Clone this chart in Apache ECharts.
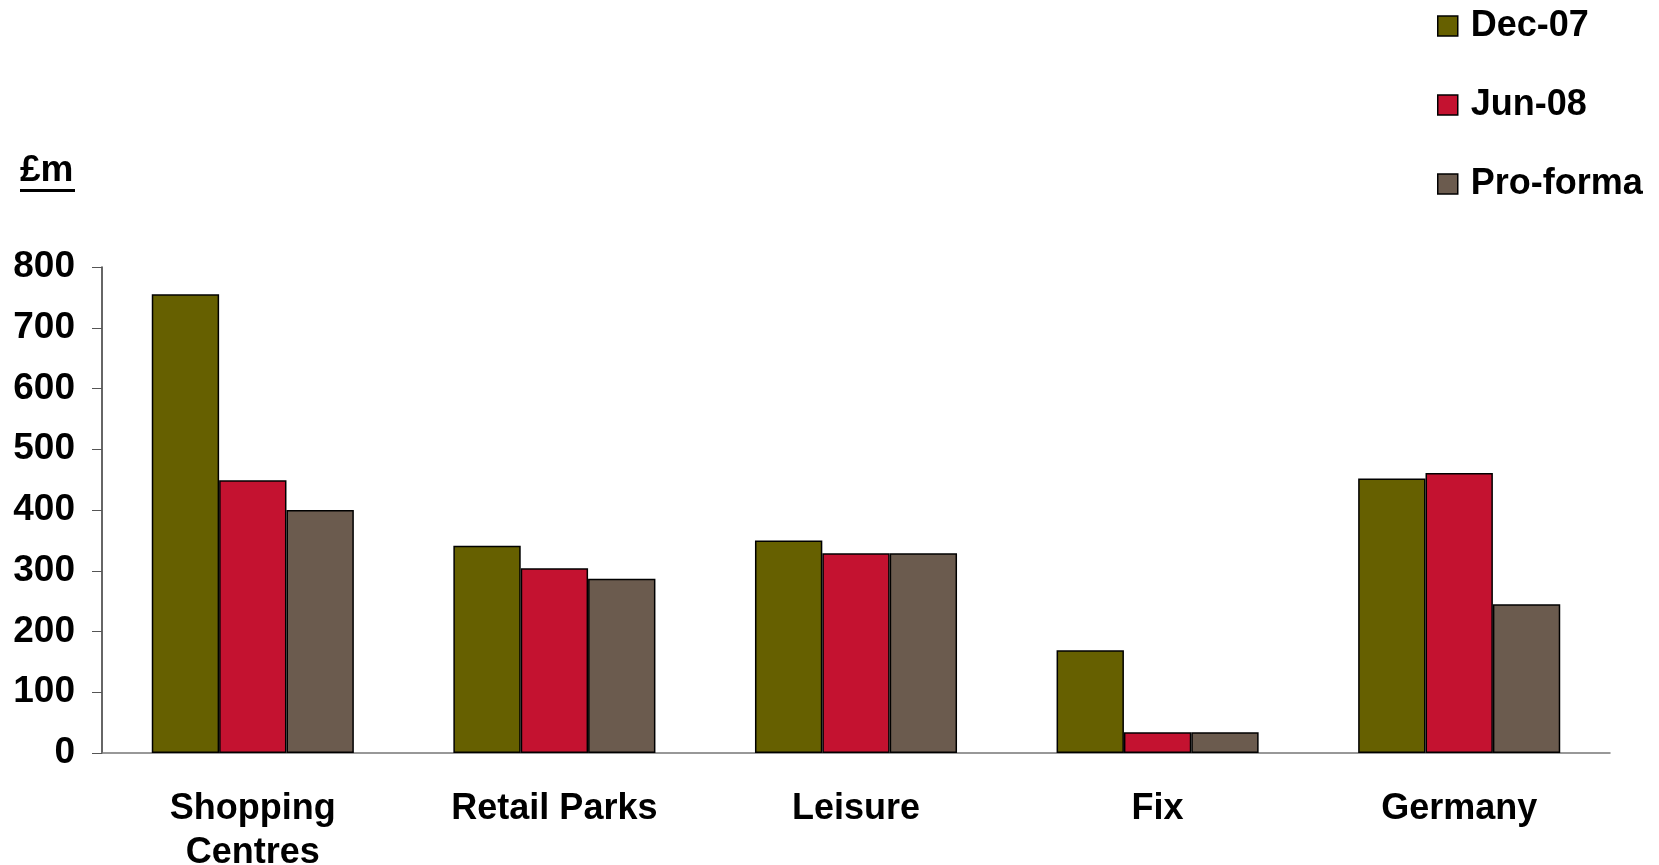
<!DOCTYPE html>
<html>
<head>
<meta charset="utf-8">
<script src="https://cdn.jsdelivr.net/npm/echarts@6/dist/echarts.min.js"></script>
<style>
html, body { margin: 0; padding: 0; background: #fff; }
#chart { width: 1659px; height: 865px; }
</style>
</head>
<body>
<div id="chart"></div>
<script>
// data
var categories = ['Shopping\nCentres', 'Retail Parks', 'Leisure', 'Fix', 'Germany'];
var seriesNames = ['Dec-07', 'Jun-08', 'Pro-forma'];
var dec07 = [755, 341, 350, 169, 452];
var jun08 = [449, 304, 329, 34, 461];
var proForma = [400, 287, 329, 34, 245];
var yTicks = [0, 100, 200, 300, 400, 500, 600, 700, 800];

var colors = ['#666000', '#C41230', '#6B5B4E'];
var font = 'Liberation Sans, Arial, sans-serif';

function makeSeries(name, data) {
	return {
		name : name,
		type : 'bar',
		barGap : '0%',
		barCategoryGap : '33%',
		itemStyle : {
			borderColor : '#000',
			borderWidth : 1.5
		},
		data : data
	};
}

var chart = echarts.init(document.getElementById('chart'));
var option = {
	animation : false,
	color : colors,
	grid : {
		left : 102,
		right : 49,
		top : 267,
		bottom : 112,
		outerBoundsMode : 'none'
	},
	legend : {
		orient : 'vertical',
		left : 1432,
		top : 3,
		itemWidth : 20,
		itemHeight : 20,
		itemGap : 43,
		icon : 'rect',
		itemStyle : {
			borderColor : '#000',
			borderWidth : 1.5
		},
		textStyle : {
			fontFamily : font,
			fontWeight : 'bold',
			fontSize : 36,
			color : '#000',
			padding : [0, 0, 0, 8]
		},
		data : seriesNames
	},
	graphic : [
		{
			type : 'text',
			left : 20,
			top : 152,
			style : {
				text : '£m',
				font : 'bold 37px ' + font,
				fill : '#000'
			}
		},
		{
			type : 'rect',
			left : 20,
			top : 189,
			shape : { width : 55, height : 3 },
			style : { fill : '#000' }
		}
	],
	xAxis : {
		type : 'category',
		data : categories,
		axisLine : { lineStyle : { color : '#777', width : 1.5 } },
		axisTick : { length : 9, lineStyle : { color : '#555' } },
		axisLabel : {
			margin : 34,
			fontFamily : font,
			fontWeight : 'bold',
			fontSize : 36,
			color : '#000',
			lineHeight : 44
		}
	},
	yAxis : {
		type : 'value',
		min : yTicks[0],
		max : yTicks[yTicks.length - 1],
		interval : 100,
		splitLine : { show : false },
		axisLine : { show : true, lineStyle : { color : '#333', width : 1.5 } },
		axisTick : { show : true, length : 10, lineStyle : { color : '#555' } },
		axisLabel : {
			margin : 27,
			fontFamily : font,
			fontWeight : 'bold',
			fontSize : 37,
			color : '#000'
		}
	},
	series : [
		makeSeries(seriesNames[0], dec07),
		makeSeries(seriesNames[1], jun08),
		makeSeries(seriesNames[2], proForma)
	]
};
chart.setOption(option);
</script>
</body>
</html>
